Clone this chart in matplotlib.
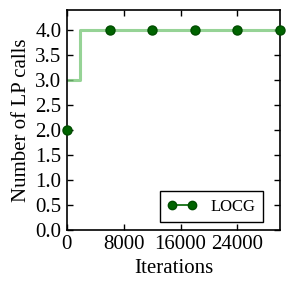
import matplotlib
matplotlib.use("Agg")
import matplotlib.pyplot as plt
from matplotlib.lines import Line2D

# step trace of LP calls per iteration
step_iters = [0, 1800, 30000]
step_calls = [3, 4, 4]

# sampled points shown as markers
marker_iters = [0, 6000, 12000, 18000, 24000, 30000]
marker_calls = [2, 4, 4, 4, 4, 4]

xticks = [0, 8000, 16000, 24000]
yticks = [0.0, 0.5, 1.0, 1.5, 2.0, 2.5, 3.0, 3.5, 4.0]

plt.rcParams["font.family"] = ["Liberation Serif", "DejaVu Serif"]
plt.rcParams["font.size"] = 15

fig = plt.figure(figsize=(2.91, 2.91), dpi=100)
ax = fig.add_axes([0.23, 0.21, 0.732, 0.756])

ax.step(step_iters, step_calls, where="post", color="#7cc97c", lw=2.2, alpha=0.8, zorder=2)
ax.plot(marker_iters, marker_calls, "o", color="#006400", mec="#004d00", ms=6.5, zorder=3,
        clip_on=False)

ax.set_xlim(0, 30000)
ax.set_ylim(0, 4.4)
ax.set_xticks(xticks)
ax.set_yticks(yticks)
ax.set_yticklabels([f"{v:.1f}" for v in yticks])
ax.tick_params(direction="in", top=True, right=True, length=4, width=1, pad=4)
for s in ax.spines.values():
    s.set_linewidth(1.2)

ax.set_xlabel("Iterations", labelpad=3)
ax.set_ylabel("Number of LP calls", labelpad=3)

handle = Line2D([], [], color="#006400", marker="o", ms=6, lw=1.2, mec="#004d00")
leg = ax.legend([handle], ["LOCG"], loc="lower right", bbox_to_anchor=(0.92, 0.035),
                borderaxespad=0, fancybox=False, framealpha=1, edgecolor="black",
                fontsize=12, numpoints=2, handlelength=1.8, borderpad=0.45,
                handletextpad=0.8)
leg.get_frame().set_linewidth(1.0)

fig.savefig("out.png", dpi=100)
